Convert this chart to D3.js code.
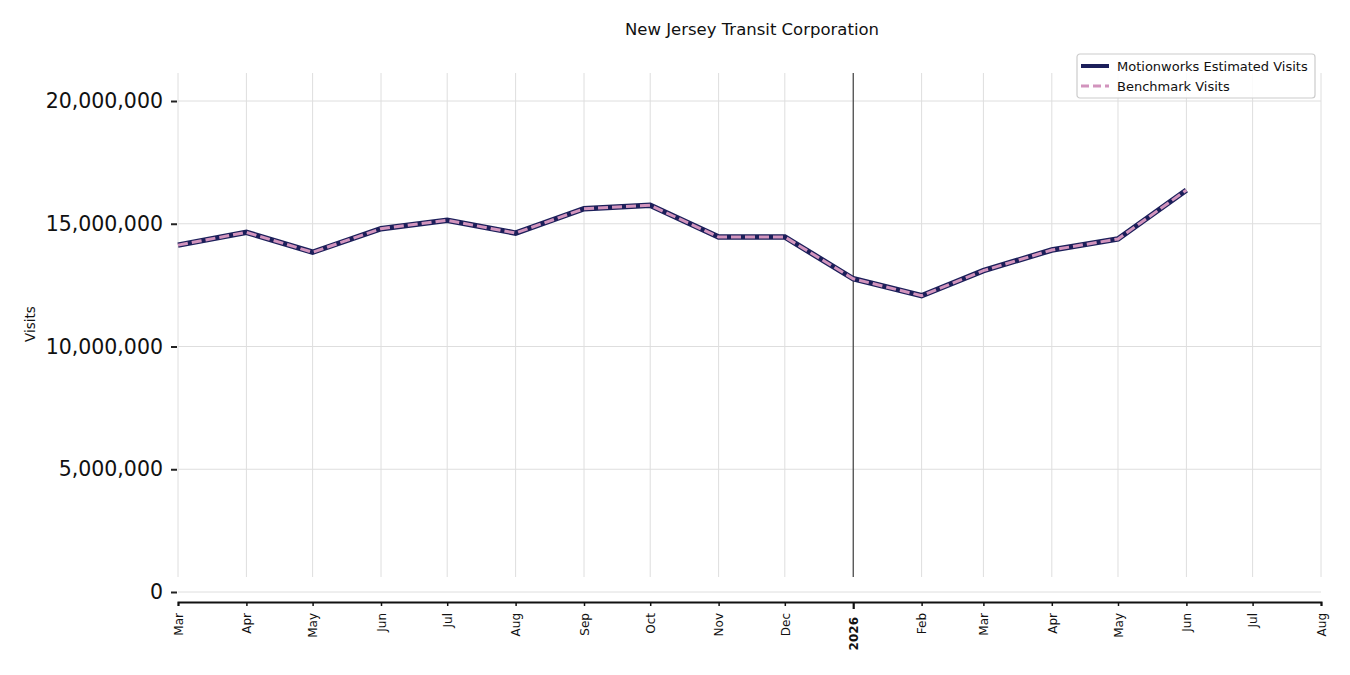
<!DOCTYPE html>
<html>
<head>
<meta charset="utf-8">
<script src="https://cdn.jsdelivr.net/npm/d3@7"></script>
<style>
  body { margin: 0; background: #fff; }
  svg { font-family: "DejaVu Sans", sans-serif; }
</style>
</head>
<body>
<div id="chart"></div>
<script>
// monthly visits, Mar 2025 .. Jun 2026
let months = ["2025-03","2025-04","2025-05","2025-06","2025-07","2025-08","2025-09","2025-10",
              "2025-11","2025-12","2026-01","2026-02","2026-03","2026-04","2026-05","2026-06"];
let motionworks = [14130000,14650000,13840000,14800000,15140000,14620000,15610000,15750000,
                   14460000,14460000,12760000,12070000,13090000,13930000,14380000,16370000];
let benchmark = [14130000,14650000,13840000,14800000,15140000,14620000,15610000,15750000,
                 14460000,14460000,12760000,12070000,13090000,13930000,14380000,16370000];
let yTicks = [0, 5000000, 10000000, 15000000, 20000000];
let xStart = "2025-03", xEnd = "2026-08";

let parseMonth = s => { let [y, m] = s.split("-").map(Number); return new Date(Date.UTC(y, m - 1, 1)); };
let isYear = d => d.getUTCMonth() === 0;

let svg = d3.select("#chart").append("svg")
  .attr("width", 1350)
  .attr("height", 675);

let x = d3.scaleUtc()
  .domain([parseMonth(xStart), parseMonth(xEnd)])
  .range([178, 1321]);

let y = d3.scaleLinear()
  .domain([0, 20000000])
  .range([592, 101]);

let plotTop = 73, plotBottom = 602, gridBottom = 577;

// title
svg.append("text")
  .attr("x", 752).attr("y", 35)
  .attr("text-anchor", "middle")
  .style("font-size", "16.5px")
  .style("fill", "#111")
  .text("New Jersey Transit Corporation");

// horizontal grid
svg.append("g").selectAll("line").data(yTicks).enter().append("line")
  .attr("x1", x.range()[0]).attr("x2", x.range()[1])
  .attr("y1", d => y(d)).attr("y2", d => y(d))
  .attr("stroke", "#dedede").attr("stroke-width", 1);

// vertical grid
let monthTicks = x.ticks(d3.utcMonth.every(1));
svg.append("g").selectAll("line").data(monthTicks).enter().append("line")
  .attr("x1", d => x(d)).attr("x2", d => x(d))
  .attr("y1", plotTop).attr("y2", gridBottom)
  .attr("stroke", "#dedede").attr("stroke-width", 1);

// year marker
svg.append("line")
  .attr("x1", x(parseMonth("2026-01"))).attr("x2", x(parseMonth("2026-01")))
  .attr("y1", plotTop).attr("y2", gridBottom)
  .attr("stroke", "#222").attr("stroke-width", 1);

// y axis (no spine)
let yAxis = svg.append("g")
  .attr("transform", "translate(177,0)")
  .call(d3.axisLeft(y).tickValues(yTicks).tickFormat(d3.format(",")).tickSize(6).tickPadding(8));
yAxis.select(".domain").remove();
yAxis.selectAll(".tick line").attr("stroke", "#222").attr("stroke-width", 2);
yAxis.selectAll(".tick text")
  .style("font-size", "20.5px")
  .style("font-family", "DejaVu Sans")
  .attr("fill", "#111");

svg.append("text")
  .attr("transform", "translate(35,324) rotate(-90)")
  .attr("text-anchor", "middle")
  .style("font-size", "13.5px")
  .style("fill", "#111")
  .text("Visits");

// x axis
let xAxis = svg.append("g")
  .attr("transform", `translate(0,${plotBottom})`)
  .call(d3.axisBottom(x).tickValues(monthTicks).tickSize(4)
    .tickFormat(d => isYear(d) ? d3.utcFormat("%Y")(d) : d3.utcFormat("%b")(d)));
xAxis.select(".domain").attr("stroke", "#111").attr("stroke-width", 2);
xAxis.selectAll(".tick line")
  .attr("y2", d => isYear(d) ? 7 : 4)
  .attr("stroke", "#111")
  .attr("stroke-width", d => isYear(d) ? 2.2 : 1.5);
xAxis.selectAll(".tick text")
  .attr("transform", "rotate(-90)")
  .attr("text-anchor", "end")
  .attr("x", d => isYear(d) ? -15 : -11).attr("y", 0).attr("dy", "0.35em")
  .style("font-size", "12px")
  .style("font-family", "DejaVu Sans")
  .style("font-weight", d => isYear(d) ? "bold" : "normal")
  .attr("fill", "#111");

// lines
let mwData = months.map((m, i) => ({ date: parseMonth(m), v: motionworks[i] }));
let bmData = months.map((m, i) => ({ date: parseMonth(m), v: benchmark[i] }));
let line = d3.line().x(d => x(d.date)).y(d => y(d.v));

svg.append("path").datum(mwData)
  .attr("d", line)
  .attr("fill", "none")
  .attr("stroke", "#1c1f5a")
  .attr("stroke-width", 5.5)
  .attr("stroke-linejoin", "miter");

svg.append("path").datum(bmData)
  .attr("d", line)
  .attr("fill", "none")
  .attr("stroke", "#d294bd")
  .attr("stroke-width", 3)
  .attr("stroke-dasharray", "10,4");

// legend
let legend = svg.append("g").attr("transform", "translate(1077,54)");
legend.append("rect")
  .attr("width", 238).attr("height", 44)
  .attr("rx", 3).attr("ry", 3)
  .attr("fill", "#fff").attr("fill-opacity", 0.85)
  .attr("stroke", "#ccc").attr("stroke-width", 1.2);

let legendItems = [
  { label: "Motionworks Estimated Visits", color: "#1c1f5a", width: 4, dash: null },
  { label: "Benchmark Visits", color: "#d294bd", width: 3, dash: "8,4" }
];
legendItems.forEach((d, i) => {
  let g = legend.append("g").attr("transform", `translate(0,${12 + i * 20})`);
  g.append("line")
    .attr("x1", 4).attr("x2", 32)
    .attr("stroke", d.color).attr("stroke-width", d.width)
    .attr("stroke-dasharray", d.dash);
  g.append("text")
    .attr("x", 40).attr("y", 4.5)
    .style("font-size", "13px")
    .style("fill", "#111")
    .text(d.label);
});
</script>
</body>
</html>
